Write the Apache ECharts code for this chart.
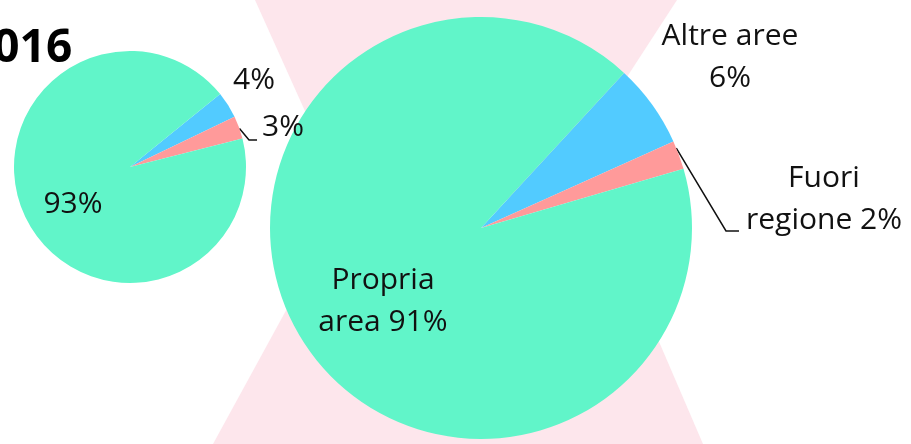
<!DOCTYPE html>
<html>
<head>
<meta charset="utf-8">
<script src="https://cdn.jsdelivr.net/npm/echarts@6/dist/echarts.min.js"></script>
<style>
  html, body { margin: 0; padding: 0; background: #fff; }
  #chart { width: 911px; height: 444px; }
</style>
</head>
<body>
<div id="chart"></div>
<script>
// categorie e valori
var categories = ['Altre aree', 'Fuori regione', 'Propria area']
var values2016 = [3.7, 3.2, 93.1]
var valuesNow = [6.4, 2.2, 91.3]
var labels2016 = ['{p}', '{p}', '{p}']
var labelsNow = ['Altre aree\n{p}', 'Fuori\nregione {p}', 'Propria\narea {p}']
var colors = ['#52cbff', '#ff9a9a', '#61f5c9']

// geometria delle due torte
var pies = [
  { center: [130, 167], radius: 116, start: 39, values: values2016, fmt: labels2016 },
  { center: [481, 228], radius: 211, start: 47.3, values: valuesNow, fmt: labelsNow }
]
// posizioni delle etichette [x, y] per serie / indice
var labelPos = [
  [[254, 80], [283, 127], [73, 204]],
  [[730, 57], [824, 199], [383, 301]]
]
// forma della linea guida: [frazione della fetta, scarto dal testo, gomito]
var leader = [
  { frac: 0.55, drop: 8, gap: 5, elbow: 13 },
  { frac: 0.25, drop: 10, gap: 7, elbow: 20 }
]

var FONT = '"Open Sans", "Noto Sans", sans-serif'

function edgePoint (pie, idx, frac) {
  var total = pie.values.reduce(function (a, b) { return a + b }, 0)
  var before = 0
  for (var i = 0; i < idx; i++) before += pie.values[i]
  var a = (pie.start - (before + pie.values[idx] * frac) / total * 360) * Math.PI / 180
  return [pie.center[0] + pie.radius * Math.cos(a), pie.center[1] - pie.radius * Math.sin(a)]
}

function buildData (pie) {
  return pie.values.map(function (v, i) {
    return {
      name: categories[i],
      value: v,
      itemStyle: { color: colors[i] },
      label: { formatter: pie.fmt[i].replace('{p}', Math.round(v) + '%') },
      labelLine: { show: i === 1 }
    }
  })
}

function makeLayout (s) {
  return function (p) {
    var pos = labelPos[s][p.dataIndex]
    var out = { x: pos[0], y: pos[1], align: 'center', verticalAlign: 'middle' }
    if (p.dataIndex === 1) {
      var L = leader[s]
      var left = pos[0] - p.labelRect.width / 2
      var yb = pos[1] + p.labelRect.height / 2 - L.drop
      out.labelLinePoints = [
        edgePoint(pies[s], 1, L.frac),
        [left - L.elbow, yb],
        [left - L.gap, yb]
      ]
    }
    return out
  }
}

var chart = echarts.init(document.getElementById('chart'))
chart.setOption({
  animation: false,
  backgroundColor: '#fff',
  graphic: [
    {
      type: 'polygon', z: -10, silent: true,
      shape: { points: [[255, 0], [677, 0], [547, 200], [345, 200]] },
      style: { fill: '#fde6ec' }
    },
    {
      type: 'polygon', z: -10, silent: true,
      shape: { points: [[330, 230], [611, 230], [703, 444], [213, 444]] },
      style: { fill: '#fde6ec' }
    },
    {
      type: 'text', x: -33, y: 49, silent: true,
      style: {
        text: '2016', fill: '#000', font: 'bold 46px ' + FONT,
        verticalAlign: 'middle'
      }
    }
  ],
  series: pies.map(function (pie, s) {
    return {
      type: 'pie',
      center: pie.center,
      radius: pie.radius,
      startAngle: pie.start,
      clockwise: true,
      avoidLabelOverlap: false,
      silent: true,
      label: {
        position: 'outside', color: '#111', fontFamily: FONT, fontSize: 30, lineHeight: 42
      },
      labelLine: { lineStyle: { color: '#111', width: 1.5 } },
      labelLayout: makeLayout(s),
      data: buildData(pie)
    }
  })
})
</script>
</body>
</html>
